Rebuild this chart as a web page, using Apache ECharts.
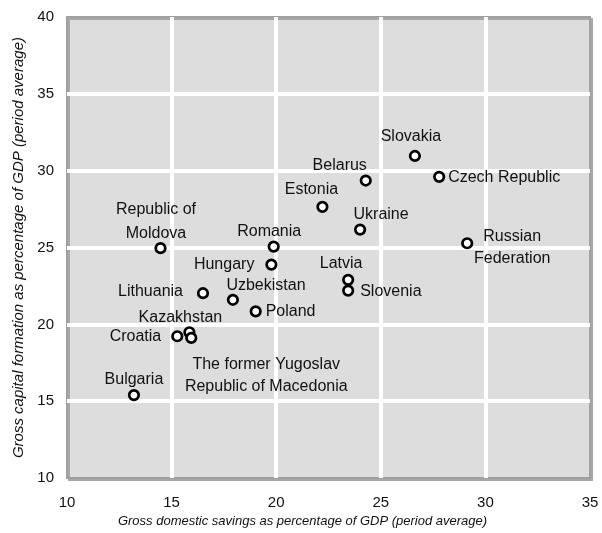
<!DOCTYPE html>
<html>
<head>
<meta charset="utf-8">
<script src="https://cdn.jsdelivr.net/npm/echarts@6/dist/echarts.min.js"></script>
<style>
html,body{margin:0;padding:0;background:#fff;}
#chart{width:602px;height:533px;}
</style>
</head>
<body>
<div id="chart"></div>
<script>
// ---- data ----
var countries = [
  'Bulgaria', 'Croatia', 'Kazakhstan', 'The former Yugoslav\nRepublic of Macedonia',
  'Lithuania', 'Uzbekistan', 'Poland', 'Hungary', 'Romania', 'Republic of\nMoldova',
  'Estonia', 'Belarus', 'Ukraine', 'Latvia', 'Slovenia', 'Slovakia',
  'Czech Republic', 'Russian\nFederation'
];
var savings = [13.20, 15.27, 15.85, 15.94, 16.50, 17.93, 19.02, 19.77, 19.88, 14.47,
               22.21, 24.28, 24.01, 23.44, 23.44, 26.63, 27.79, 29.13];
var capitalFormation = [15.40, 19.23, 19.49, 19.12, 22.03, 21.60, 20.85, 23.89, 25.06, 24.96,
                        27.65, 29.36, 26.17, 22.90, 22.20, 30.96, 29.60, 25.28];
var xTicks = [10, 15, 20, 25, 30, 35];
var yTicks = [10, 15, 20, 25, 30, 35, 40];
var xTitle = 'Gross domestic savings as percentage of GDP (period average)';
var yTitle = 'Gross capital formation as percentage of GDP (period average)';

// ---- label layout (align, dx, dy, lineHeight) ----
var labelLayout = [
  ['center', 0, -16],
  ['right', -16, 0],
  ['center', -9, -15],
  ['center', 75, 37.5, 22.5],
  ['right', -20, -2],
  ['left', -6.5, -14],
  ['left', 10, 0],
  ['right', -17, 0],
  ['center', -4.5, -15],
  ['center', -4.5, -27, 24],
  ['center', -11, -17],
  ['center', -26, -15],
  ['center', 21, -15],
  ['center', -7, -16],
  ['left', 12, 1],
  ['center', -4, -19],
  ['left', 9, 0.5],
  ['center', 45, 4, 22]
];

var points = countries.map(function (c, i) {
  var l = labelLayout[i];
  return {
    name: c,
    value: [savings[i], capitalFormation[i]],
    label: {
      align: l[0],
      offset: [l[1], l[2]],
      lineHeight: l[3] || 18
    }
  };
});

var chart = echarts.init(document.getElementById('chart'), null, {renderer: 'canvas'});
chart.setOption({
  animation: false,
  backgroundColor: '#ffffff',
  grid: {
    left: 67, top: 17, right: 12, bottom: 48,
    show: true,
    backgroundColor: '#dddddd',
    borderColor: '#a0a0a0',
    borderWidth: 2,
    shadowColor: '#a8a8a8',
    shadowBlur: 0,
    shadowOffsetX: 2,
    shadowOffsetY: 2
  },
  xAxis: {
    type: 'value',
    min: xTicks[0], max: xTicks[xTicks.length - 1], interval: 5,
    name: xTitle,
    nameLocation: 'middle',
    nameGap: 35,
    nameTextStyle: {fontFamily: 'Liberation Sans', fontStyle: 'italic', fontSize: 13, color: '#111', padding: [0, 52, 0, 0]},
    axisLine: {show: false},
    axisTick: {show: false},
    axisLabel: {fontFamily: 'Liberation Sans', fontSize: 15, color: '#111', margin: 17},
    splitLine: {show: true, showMinLine: false, showMaxLine: false, lineStyle: {color: '#ffffff', width: 4}}
  },
  yAxis: {
    type: 'value',
    min: yTicks[0], max: yTicks[yTicks.length - 1], interval: 5,
    name: yTitle,
    nameLocation: 'middle',
    nameGap: 35,
    nameTextStyle: {fontFamily: 'Liberation Sans', fontStyle: 'italic', fontSize: 15, color: '#111'},
    axisLine: {show: false},
    axisTick: {show: false},
    axisLabel: {fontFamily: 'Liberation Sans', fontSize: 15, color: '#111', margin: 13},
    splitLine: {show: true, showMinLine: false, showMaxLine: false, lineStyle: {color: '#ffffff', width: 4}}
  },
  series: [{
    type: 'scatter',
    symbol: 'circle',
    symbolSize: 9.5,
    itemStyle: {color: '#ffffff', borderColor: '#000000', borderWidth: 2.7, opacity: 1},
    label: {
      show: true,
      position: 'inside',
      formatter: '{b}',
      fontFamily: 'Liberation Sans',
      fontSize: 16,
      color: '#111',
      verticalAlign: 'middle'
    },
    emphasis: {disabled: true},
    data: points
  }]
});
</script>
</body>
</html>
